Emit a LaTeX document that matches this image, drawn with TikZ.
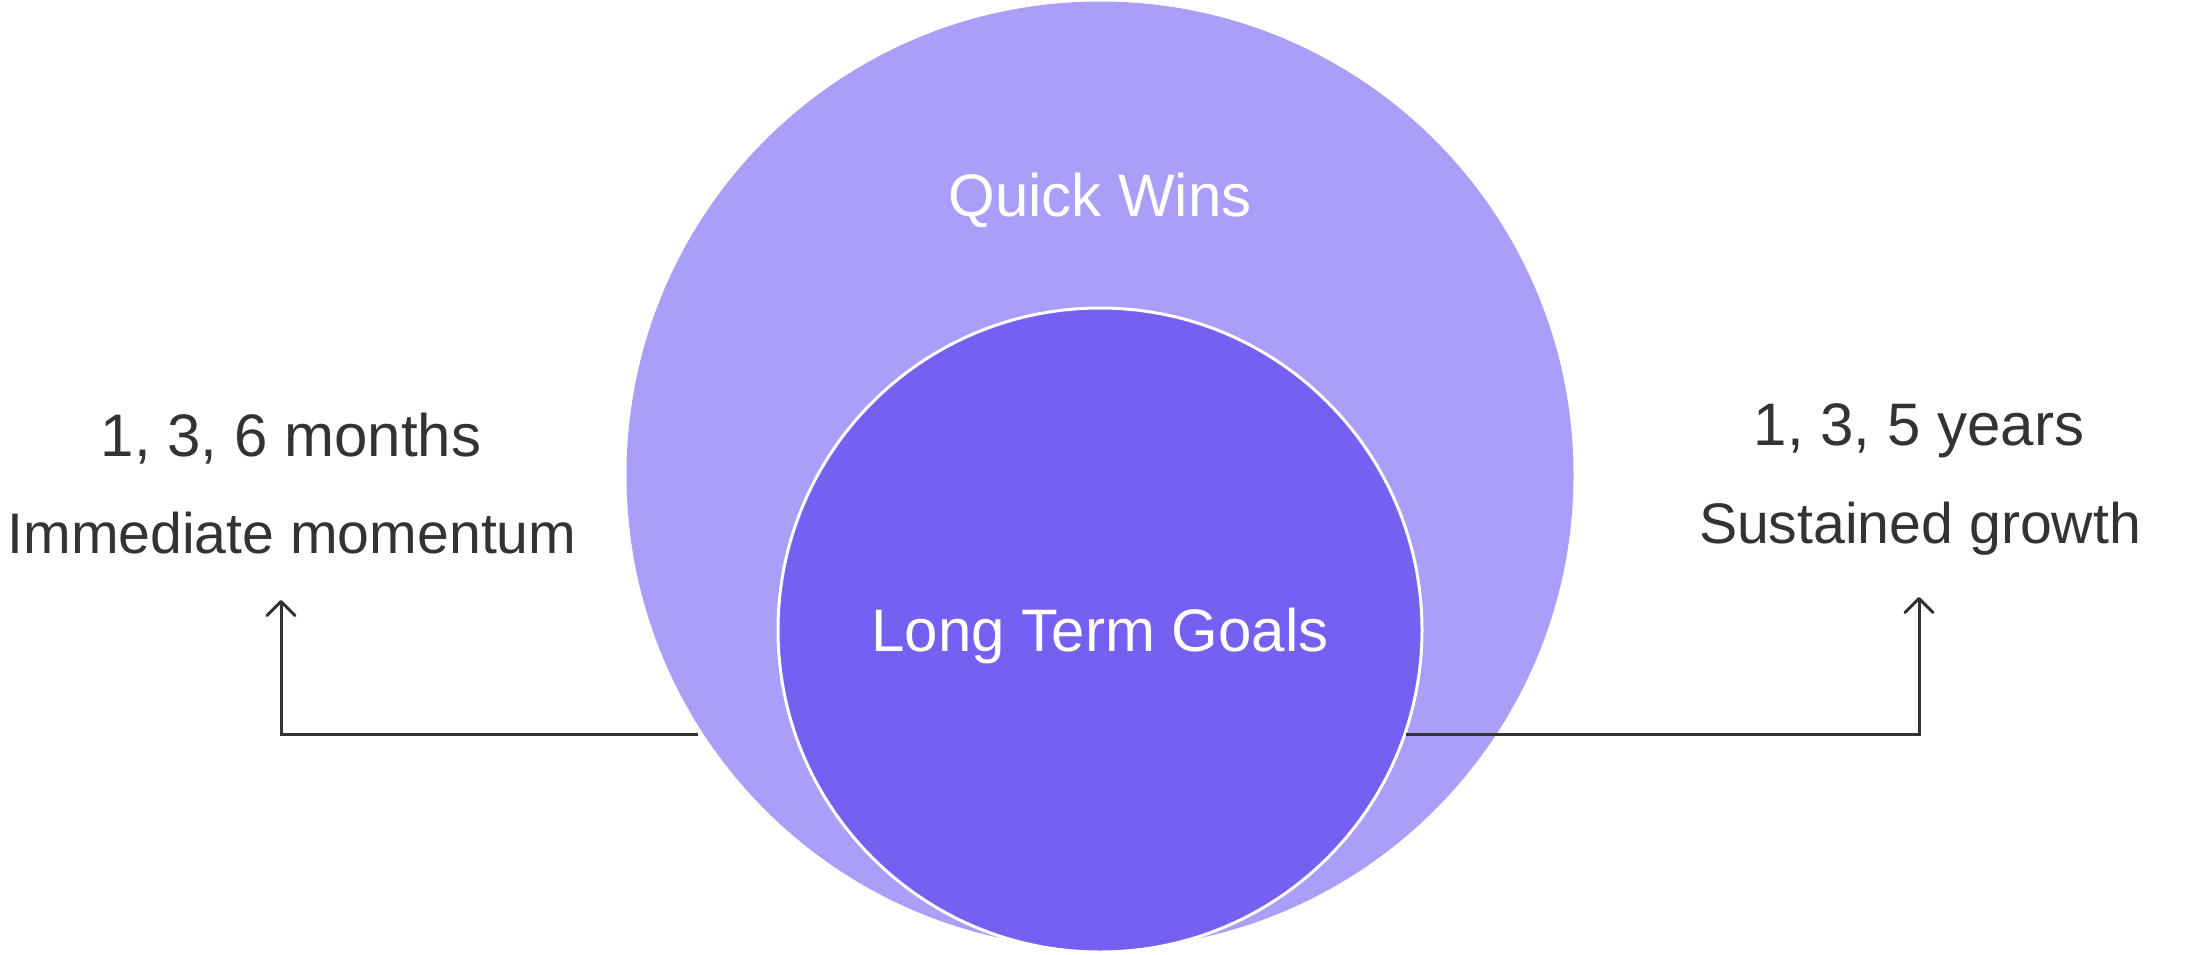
\documentclass[tikz,border=0pt]{standalone}
\usepackage{fontspec}
\setmainfont{Liberation Sans}
\usetikzlibrary{arrows.meta}
\definecolor{outerc}{HTML}{A99EF8}
\definecolor{innerc}{HTML}{7461F1}
\definecolor{ink}{HTML}{333333}
\begin{document}
\begin{tikzpicture}[x=0.5pt,y=-0.5pt,
  lbl/.style={font=\fontsize{30}{36}\selectfont, inner sep=0pt, anchor=base},
  desc/.style={font=\fontsize{28.6}{34}\selectfont, inner sep=0pt, anchor=base},
  conn/.style={draw=ink, line width=1.5pt, -{Straight Barb[length=7pt,width=14pt,line cap=round,line join=round]}},
]
\useasboundingbox[fill=white] (0,0) rectangle (2201,954);
\node[circle, fill=outerc, minimum size=473.5pt, inner sep=0pt] (outer) at (1100,475) {};
\node[circle, fill=innerc, draw=white, line width=1.5pt, minimum size=322pt, inner sep=0pt] (inner) at (1100,630) {};
\node[lbl, text=white] (qw) at (1100,216) {Quick Wins};
\node[lbl, text=white] (ltg) at (1100,651) {Long Term Goals};
\node[lbl, text=ink] (lnum) at (291,456) {1, 3, 6 months};
\node[desc, text=ink] (ldesc) at (292,553) {Immediate momentum};
\node[lbl, text=ink] (rnum) at (1919,445) {1, 3, 5 years};
\node[desc, text=ink] (rdesc) at (1920,543) {Sustained growth};
\coordinate (ls) at (698,734);
\coordinate (le) at (281,600);
\coordinate (rs) at (1406,734);
\coordinate (re) at (1919,597);
\draw[conn] (ls) -| (le);
\draw[conn] (rs) -| (re);
\end{tikzpicture}
\end{document}
